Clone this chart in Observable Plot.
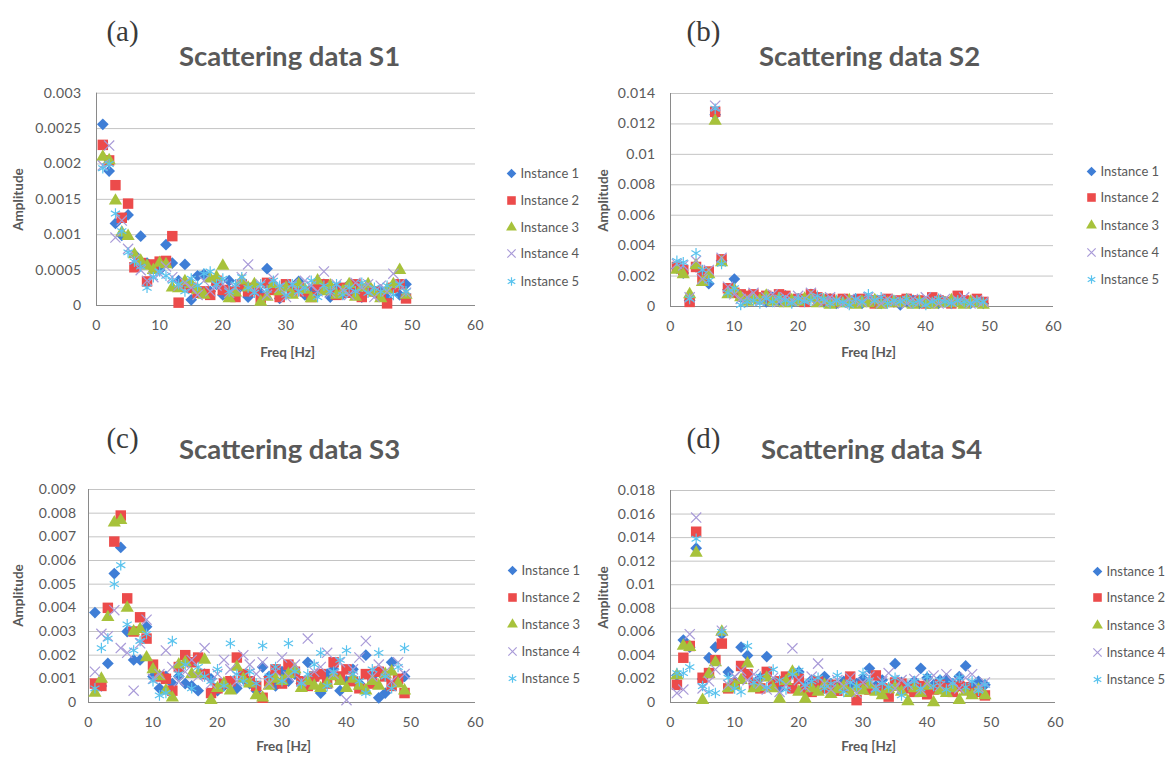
<!DOCTYPE html>
<html><head><meta charset="utf-8">
<script src="https://cdn.jsdelivr.net/npm/d3@7"></script>
<script src="https://cdn.jsdelivr.net/npm/@observablehq/plot@0.6"></script>
<style>
body{margin:0;background:#fff;}
#root{position:relative;width:1170px;height:760px;overflow:hidden;background:#fff;}
#root svg{position:absolute;}
g[aria-label="axis-title"] text{letter-spacing:0.6px;}
g[aria-label="y-axis tick label"] text, g[aria-label="x-axis tick label"] text{letter-spacing:0.4px;}
</style></head><body><div id="root"></div>
<script>
// ---------- data ----------
const freq = [1,2,3,4,5,6,7,8,9,10,11,12,13,14,15,16,17,18,19,20,21,22,23,24,25,26,27,28,29,30,31,32,33,34,35,36,37,38,39,40,41,42,43,44,45,46,47,48,49];
const seriesNames = ["Instance 1","Instance 2","Instance 3","Instance 4","Instance 5"];
const panelTitles = ["Scattering data S1","Scattering data S2","Scattering data S3","Scattering data S4"];
const panelLetters = ["(a)","(b)","(c)","(d)"];
const xLabel = "Freq [Hz]";
const yLabel = "Amplitude";
const xTicks = [0,10,20,30,40,50,60];
const yTicksA = [0,0.0005,0.001,0.0015,0.002,0.0025,0.003];
const yTicksB = [0,0.002,0.004,0.006,0.008,0.01,0.012,0.014];
const yTicksC = [0,0.001,0.002,0.003,0.004,0.005,0.006,0.007,0.008,0.009];
const yTicksD = [0,0.002,0.004,0.006,0.008,0.01,0.012,0.014,0.016,0.018];

// Scattering data S1
const s1i1 = [0.00256,0.0019,0.00116,0.00099,0.00128,0.00072,0.00098,0.0006,0.00055,0.0005,0.00086,0.0006,0.00035,0.00058,0.00008,0.00042,0.00044,0.0002,0.0003,0.00015,0.00035,0.0002,0.00028,0.00012,0.00022,0.00018,0.00052,0.00025,0.0001,0.00028,0.0002,0.00034,0.00015,0.00022,0.00018,0.0003,0.00012,0.00025,0.00016,0.0003,0.0002,0.00012,0.00026,0.00018,0.00022,0.0001,0.00028,0.00015,0.0003];
const s1i2 = [0.00227,0.00205,0.0017,0.00124,0.00144,0.00054,0.0006,0.00034,0.00058,0.00062,0.00063,0.00098,0.00004,0.0003,0.00025,0.00018,0.0002,0.00015,0.00035,0.00022,0.0002,0.00012,0.0003,0.0002,0.00025,0.0001,0.00032,0.00022,0.00012,0.0003,0.00018,0.00025,0.0002,0.00012,0.00028,0.0003,0.00022,0.00015,0.00025,0.00018,0.0003,0.00012,0.00022,0.0002,0.00015,0.00003,0.00025,0.0003,0.0001];
const s1i3 = [0.0021,0.00205,0.00148,0.00103,0.00098,0.00072,0.00063,0.00056,0.0005,0.0006,0.00058,0.00025,0.00024,0.00034,0.0003,0.00022,0.00015,0.00038,0.0004,0.00056,0.0001,0.00018,0.00035,0.00025,0.0003,0.00005,0.00012,0.0003,0.0002,0.00025,0.00015,0.0003,0.00022,0.0001,0.00035,0.0002,0.00028,0.00015,0.0002,0.0003,0.00012,0.00025,0.0003,0.00018,0.0001,0.00022,0.0003,0.0005,0.00015];
const s1i4 = [0.00198,0.00226,0.00096,0.0012,0.0008,0.00065,0.0005,0.00035,0.0004,0.00045,0.00055,0.0004,0.00028,0.00032,0.00025,0.00015,0.00035,0.0002,0.00028,0.0003,0.00018,0.00025,0.0004,0.00058,0.0002,0.0003,0.00015,0.00038,0.00025,0.00012,0.0003,0.0002,0.00035,0.00028,0.0002,0.00048,0.00018,0.0003,0.00022,0.00015,0.00032,0.00025,0.0003,0.00012,0.00028,0.0002,0.00045,0.0003,0.00018];
const s1i5 = [0.00194,0.002,0.0013,0.00105,0.00075,0.00062,0.00055,0.00025,0.0004,0.00048,0.00042,0.00035,0.0003,0.0002,0.00038,0.00028,0.00045,0.00048,0.0003,0.00038,0.0002,0.0003,0.0004,0.00025,0.00018,0.0003,0.00022,0.00035,0.00028,0.00015,0.0003,0.0002,0.00025,0.00035,0.00012,0.00028,0.0002,0.0003,0.00015,0.00025,0.0002,0.00032,0.00018,0.00025,0.0002,0.00028,0.00015,0.0003,0.0002];

// Scattering data S2
const s2i1 = [0.0025,0.0022,0.0004,0.0026,0.0021,0.0015,0.0126,0.003,0.0011,0.0018,0.0006,0.0004,0.0007,0.0005,0.0003,0.0006,0.0004,0.0007,0.0003,0.0005,0.0004,0.0008,0.0006,0.0003,0.0005,0.0002,0.0004,0.0003,0.0005,0.0002,0.0004,0.0003,0.0002,0.0004,0.0003,0.0001,0.0003,0.0004,0.0002,0.0003,0.0005,0.0002,0.0003,0.0002,0.0004,0.0003,0.0002,0.0003,0.0002];
const s2i2 = [0.0026,0.0024,0.0003,0.0026,0.0019,0.0023,0.0128,0.0031,0.0012,0.0009,0.0008,0.0007,0.0008,0.0006,0.0007,0.0005,0.0008,0.0007,0.0004,0.0005,0.0003,0.0008,0.0006,0.0004,0.0005,0.0003,0.0005,0.0004,0.0003,0.0005,0.0004,0.0002,0.0004,0.0005,0.0003,0.0004,0.0005,0.0003,0.0004,0.0002,0.0006,0.0004,0.0003,0.0002,0.0007,0.0004,0.0003,0.0005,0.0003];
const s2i3 = [0.0024,0.0021,0.0008,0.0027,0.0016,0.0021,0.0122,0.0029,0.0008,0.0011,0.0006,0.0003,0.0005,0.0004,0.0007,0.0003,0.0005,0.0002,0.0004,0.0003,0.0005,0.0006,0.0002,0.0004,0.0001,0.0003,0.0002,0.0004,0.0001,0.0003,0.0002,0.0004,0.0001,0.0002,0.0003,0.0002,0.0004,0.0001,0.0003,0.0002,0.0001,0.0003,0.0002,0.0004,0.0002,0.0001,0.0003,0.0002,0.0001];
const s2i4 = [0.0028,0.0027,0.0006,0.003,0.0018,0.0024,0.0132,0.0032,0.0013,0.0008,0.0005,0.0006,0.0009,0.0004,0.0006,0.0008,0.0003,0.0006,0.0004,0.0007,0.0005,0.0009,0.0004,0.0003,0.0006,0.0004,0.0002,0.0005,0.0004,0.0003,0.0006,0.0004,0.0002,0.0005,0.0003,0.0004,0.0002,0.0005,0.0003,0.0006,0.0004,0.0002,0.0005,0.0003,0.0004,0.0006,0.0002,0.0004,0.0003];
const s2i5 = [0.003,0.0029,0.0005,0.0035,0.0024,0.0017,0.013,0.0028,0.0009,0.0012,0.0001,0.0003,0.0004,0.0002,0.0005,0.0003,0.0006,0.0004,0.0002,0.0005,0.0003,0.0004,0.0007,0.0005,0.0002,0.0004,0.0003,0.0001,0.0005,0.0003,0.0008,0.0004,0.0006,0.0002,0.0004,0.0003,0.0005,0.0002,0.0004,0.0001,0.0003,0.0005,0.0003,0.0002,0.0004,0.0003,0.0002,0.0004,0.0003];

// Scattering data S3
const s3i1 = [0.0038,0.0007,0.00165,0.00545,0.00655,0.003,0.0018,0.0018,0.0032,0.0011,0.0006,0.0011,0.0008,0.0011,0.0008,0.0007,0.0005,0.0012,0.001,0.0005,0.0007,0.0009,0.0006,0.001,0.0008,0.0005,0.0015,0.0011,0.0007,0.0013,0.0009,0.0012,0.0008,0.0017,0.001,0.0004,0.0012,0.0014,0.0005,0.0009,0.0014,0.0008,0.002,0.0011,0.0002,0.0004,0.0017,0.0009,0.0011];
const s3i2 = [0.0008,0.0007,0.004,0.0068,0.0079,0.0044,0.003,0.0036,0.0027,0.0016,0.0011,0.001,0.0005,0.0015,0.002,0.0017,0.0019,0.0012,0.0004,0.0006,0.0008,0.0009,0.0019,0.0012,0.0009,0.0007,0.0002,0.0009,0.0014,0.0008,0.0016,0.0013,0.0009,0.0007,0.0011,0.0012,0.0008,0.0017,0.0011,0.0014,0.0009,0.0006,0.0012,0.0008,0.0013,0.0011,0.0007,0.001,0.0004];
const s3i3 = [0.0004,0.001,0.0036,0.0076,0.0077,0.004,0.003,0.0031,0.0019,0.0014,0.0011,0.0005,0.0002,0.0016,0.0017,0.0012,0.0012,0.0018,0.0001,0.0006,0.0008,0.0005,0.0015,0.001,0.0008,0.0003,0.0002,0.0007,0.001,0.0009,0.0012,0.0014,0.0006,0.0009,0.0007,0.0006,0.0008,0.0011,0.0009,0.0006,0.001,0.0007,0.0005,0.0009,0.0007,0.0012,0.0013,0.0008,0.0005];
const s3i4 = [0.0013,0.0029,0.0028,0.0039,0.0023,0.0021,0.0005,0.0025,0.0035,0.001,0.0012,0.0022,0.0015,0.0009,0.0013,0.0018,0.0011,0.0023,0.0008,0.0012,0.0018,0.0014,0.0009,0.002,0.0016,0.0012,0.0017,0.0008,0.0013,0.0019,0.0011,0.0016,0.0009,0.0027,0.0013,0.0015,0.0021,0.0012,0.0017,0.0001,0.0014,0.0019,0.0026,0.0011,0.0016,0.0013,0.0009,0.0017,0.0012];
const s3i5 = [0.0006,0.0023,0.0027,0.005,0.0058,0.0033,0.0022,0.0026,0.0029,0.0009,0.0003,0.0004,0.0026,0.0012,0.0016,0.0006,0.0015,0.0011,0.0009,0.0014,0.0007,0.0025,0.0012,0.0009,0.0013,0.0008,0.0024,0.0011,0.0015,0.0009,0.0025,0.0013,0.0008,0.0012,0.0016,0.0021,0.0007,0.0013,0.0018,0.0022,0.0012,0.0009,0.0004,0.0014,0.0021,0.0011,0.0006,0.0015,0.0023];

// Scattering data S4
const s4i1 = [0.0023,0.0053,0.0047,0.0131,0.002,0.0038,0.0047,0.0058,0.0026,0.0018,0.0047,0.004,0.0016,0.0021,0.0039,0.0017,0.0012,0.0021,0.0025,0.0026,0.0014,0.0019,0.0011,0.0022,0.0016,0.0013,0.0018,0.0012,0.0016,0.002,0.0029,0.0014,0.0019,0.0011,0.0033,0.0017,0.0013,0.0018,0.0029,0.0021,0.0015,0.0019,0.002,0.0016,0.0022,0.0031,0.0014,0.0018,0.0015];
const s4i2 = [0.0015,0.0038,0.0048,0.0145,0.0021,0.0025,0.0036,0.005,0.0012,0.0016,0.0031,0.0024,0.0015,0.0012,0.0026,0.0015,0.0018,0.0022,0.0012,0.002,0.0011,0.0009,0.0018,0.0012,0.0015,0.001,0.0013,0.0022,0.0002,0.0014,0.0011,0.0023,0.0012,0.0005,0.0017,0.0016,0.0012,0.0009,0.0014,0.0007,0.0011,0.0015,0.0012,0.0009,0.0014,0.0013,0.0008,0.0009,0.0006];
const s4i3 = [0.0023,0.0048,0.0047,0.0127,0.0002,0.0024,0.0034,0.006,0.0012,0.0014,0.0019,0.0033,0.0012,0.0013,0.0021,0.0012,0.0003,0.0018,0.0026,0.0009,0.0003,0.0012,0.0009,0.0015,0.0007,0.0011,0.0014,0.0008,0.0012,0.001,0.0015,0.0009,0.0006,0.0011,0.0013,0.0009,0.0001,0.0012,0.0008,0.0014,0.0,0.001,0.0008,0.0012,0.0002,0.0009,0.0006,0.0011,0.0006];
const s4i4 = [0.0008,0.0011,0.0058,0.0157,0.0012,0.0018,0.0028,0.0061,0.0015,0.0022,0.0027,0.0019,0.0024,0.0016,0.0011,0.0021,0.0009,0.0015,0.0046,0.0019,0.0013,0.0022,0.0033,0.0016,0.0011,0.0019,0.0014,0.0021,0.0008,0.0017,0.0022,0.0013,0.0018,0.0025,0.0012,0.0019,0.0015,0.002,0.0011,0.0016,0.0023,0.0014,0.0024,0.0018,0.0012,0.0021,0.0024,0.0013,0.0017];
const s4i5 = [0.0025,0.0025,0.003,0.0139,0.0014,0.0009,0.0008,0.006,0.0021,0.0012,0.0009,0.0048,0.0017,0.0022,0.0013,0.0028,0.0019,0.0011,0.0024,0.0027,0.0015,0.0018,0.0021,0.0012,0.0016,0.0023,0.0009,0.0017,0.0014,0.0025,0.0019,0.0011,0.0016,0.0013,0.0021,0.0006,0.0015,0.0018,0.0012,0.0022,0.0014,0.0019,0.0011,0.0016,0.0021,0.0013,0.0018,0.001,0.0015];

// ---------- styling & layout ----------
const seriesStyle = [
  {symbol:"diamond2", fill:"#3F7ED6", stroke:"none", r:5.3, sw:0},
  {symbol:"square",   fill:"#EC4B4B", stroke:"none", r:5.9, sw:0},
  {symbol:"triangle", fill:"#A7C23B", stroke:"none", r:4.9, sw:0},
  {symbol:"times",    fill:"none", stroke:"#A99BD8", r:4.7, sw:1.2},
  {symbol:"asterisk", fill:"none", stroke:"#59C3EE", r:5.0, sw:1.2}
];
const SANS = "Lato, 'Open Sans', sans-serif";
const panels = [
  {data:[s1i1,s1i2,s1i3,s1i4,s1i5], yTicks:yTicksA, svg:[0,0],   frame:[96,475,92.7,305], pad:15,
   letter:[122,31], title:[289,57], ylab:[18,199], xlab:[287,352], leg:[511,520,[173,200,227,253,281]]},
  {data:[s2i1,s2i2,s2i3,s2i4,s2i5], yTicks:yTicksB, svg:[585,0], frame:[670,1053,93,306], pad:15,
   letter:[703,31], title:[869,57], ylab:[603,200], xlab:[868,352], leg:[1091,1100,[171,197,225,252,279]]},
  {data:[s3i1,s3i2,s3i3,s3i4,s3i5], yTicks:yTicksC, svg:[0,380], frame:[88,475,489,702], pad:12,
   letter:[122,438], title:[289,450], ylab:[18,595], xlab:[283,746], leg:[512,521,[570,597,624,651,678]]},
  {data:[s4i1,s4i2,s4i3,s4i4,s4i5], yTicks:yTicksD, svg:[585,380], frame:[670,1055,490,702], pad:15,
   letter:[703,438], title:[871,450], ylab:[603,597], xlab:[868,746], leg:[1097,1106,[571,597,625,652,679]]}
];
const W = 585, H = 380;
const root = document.getElementById("root");

panels.forEach((P, pi) => {
  const [sx, sy] = P.svg;
  const [x0, x1, y0, y1] = P.frame;
  const at = ([X, Y]) => ({frameAnchor:"top-left", dx: X - x0, dy: Y - y0, lineAnchor:"middle"});
  const marks = [
    Plot.ruleY(P.yTicks.slice(1), {stroke:"#c4c4c4", strokeWidth:1}),
    Plot.ruleY([0], {stroke:"#8a8a8a", strokeWidth:1}),
    Plot.ruleX([0], {stroke:"#8a8a8a", strokeWidth:1}),
    Plot.axisX({ticks:xTicks, tickSize:0, tickPadding:15, fontSize:14, fill:"#595959", label:null, tickFormat:d=>String(d)}),
    Plot.axisY({ticks:P.yTicks, tickSize:0, tickPadding:P.pad, fontSize:14, fill:"#595959", label:null, tickFormat:d=>String(d)})
  ];
  P.data.forEach((vals, s) => {
    const st = seriesStyle[s];
    const rows = vals.map((v, k) => ({f: freq[k], amp: v, series: seriesNames[s]}));
    marks.push(Plot.dot(rows, {x:"f", y:"amp", symbol:st.symbol, r:st.r, fill:st.fill, stroke:st.stroke, strokeWidth:st.sw}));
  });
  // legend
  seriesNames.forEach((name, s) => {
    const st = seriesStyle[s];
    const ly = P.leg[2][s];
    marks.push(Plot.dot([name], {frameAnchor:"top-left", dx:P.leg[0]-x0, dy:ly-y0, symbol:st.symbol, r:st.r*0.82, fill:st.fill, stroke:st.stroke, strokeWidth:st.sw}));
    marks.push(Plot.text([name], {...at([P.leg[1], ly]), text:d=>d, textAnchor:"start", fontSize:13, fill:"#595959"}));
  });
  // titles & labels
  marks.push(Plot.text([panelTitles[pi]], {...at(P.title), text:d=>d, textAnchor:"middle", fontSize:27.5, fontWeight:"bold", fill:"#595959"}));
  marks.push(Plot.text([panelLetters[pi]], {...at(P.letter), text:d=>d, textAnchor:"middle", fontSize:29, fontFamily:"'Liberation Serif', serif", fill:"#3a3a3a"}));
  marks.push(Plot.text([xLabel], {...at(P.xlab), text:d=>d, textAnchor:"middle", fontSize:13.5, fontWeight:"bold", fill:"#595959", ariaLabel:"axis-title"}));
  marks.push(Plot.text([yLabel], {...at(P.ylab), text:d=>d, textAnchor:"middle", fontSize:13.5, fontWeight:"bold", fill:"#595959", rotate:-90, ariaLabel:"axis-title"}));

  const chart = Plot.plot({
    width: W, height: H,
    marginLeft: x0 - sx, marginRight: sx + W - x1,
    marginTop: y0 - sy, marginBottom: sy + H - y1,
    x: {domain:[0,60]},
    y: {domain:[0, P.yTicks[P.yTicks.length-1]]},
    style: {fontFamily: SANS, background:"transparent", overflow:"visible"},
    marks
  });
  chart.style.left = sx + "px";
  chart.style.top = sy + "px";
  root.appendChild(chart);
});
</script>
</body></html>
